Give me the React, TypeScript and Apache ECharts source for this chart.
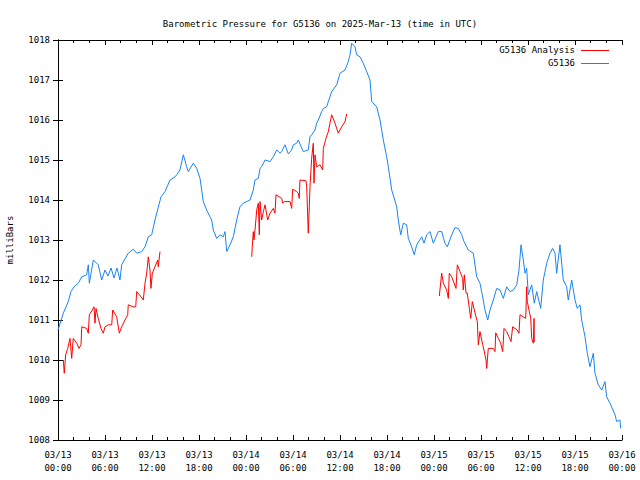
import React, { useEffect, useRef } from "react";
import * as echarts from "echarts";

// Hours since 2025-03-13 00:00 UTC
const stationHours = [
  0, 0.68, 1.31, 1.66, 2.04, 2.59, 3.03, 3.66, 3.87, 4.0, 4.51, 4.94, 5.14, 5.58, 6.0, 6.38, 6.77, 7.15, 7.53, 7.91,
  8.13, 8.97, 9.61, 10.05, 10.68, 11.11, 11.53, 11.96, 12.38, 13.15, 13.66, 14.3, 14.94, 15.15, 15.57, 16.0, 16.43,
  16.63, 17.27, 17.71, 18.13, 18.34, 18.55, 18.98, 19.4, 19.62, 19.83, 20.26, 20.68, 21.1, 21.32, 21.54, 21.96, 22.38,
  22.81, 23.23, 23.66, 24.51, 24.93, 25.15, 25.57, 25.79, 26.0, 26.43, 27.06, 27.49, 27.92, 28.34, 28.56, 28.98, 29.4,
  29.83, 30.04, 30.47, 30.68, 31.31, 31.95, 32.17, 32.38, 32.81, 33.02, 33.23, 33.66, 33.87, 34.3, 34.51, 34.94, 35.58,
  36.0, 36.64, 37.06, 37.28, 37.49, 37.91, 38.13, 38.55, 38.97, 39.41, 39.83, 40.05, 40.68, 41.11, 41.53, 41.96, 42.17,
  42.6, 43.24, 43.44, 43.75, 44.08, 44.51, 44.72, 45.15, 45.48, 45.79, 46.43, 46.72, 47.07, 47.49, 47.91, 48.55, 48.98,
  49.4, 49.7, 50.26, 50.68, 51.1, 51.54, 51.83, 52.38, 53.02, 53.45, 53.87, 54.29, 54.51, 54.86, 55.15, 55.57, 56.0,
  56.43, 56.85, 57.28, 57.7, 58.12, 58.56, 58.85, 59.11, 59.4, 59.62, 59.83, 60.04, 60.47, 60.8, 61.11, 61.62, 61.95,
  62.39, 62.81, 63.15, 63.45, 63.66, 64.08, 64.5, 64.94, 65.14, 65.58, 66.0, 66.29, 66.64, 66.85, 67.28, 67.57, 67.91,
  68.34, 68.55, 68.97, 69.41, 69.83, 70.04, 70.47, 71.11, 71.32, 71.74, 71.83,
];
const stationValues = [
  1010.75, 1011.17, 1011.46, 1011.71, 1011.83, 1011.92, 1012.08, 1012.13, 1012.38, 1011.92, 1012.5, 1012.42, 1012.38,
  1012.0, 1012.25, 1012.1, 1012.3, 1012.05, 1012.3, 1012.0, 1012.38, 1012.67, 1012.77, 1012.67, 1012.71, 1012.83,
  1013.08, 1013.13, 1013.5, 1014.08, 1014.21, 1014.5, 1014.58, 1014.63, 1014.75, 1015.13, 1014.83, 1014.71, 1014.92,
  1014.79, 1014.54, 1014.25, 1013.96, 1013.75, 1013.58, 1013.5, 1013.25, 1013.04, 1013.13, 1013.08, 1013.21, 1012.71,
  1012.88, 1013.08, 1013.5, 1013.83, 1013.92, 1014.0, 1014.25, 1014.5, 1014.54, 1014.79, 1014.83, 1015.0, 1014.96,
  1015.08, 1015.25, 1015.17, 1015.21, 1015.38, 1015.15, 1015.25, 1015.38, 1015.42, 1015.5, 1015.21, 1015.25, 1015.58,
  1015.63, 1015.75, 1015.92, 1016.0, 1016.21, 1016.29, 1016.33, 1016.46, 1016.71, 1016.88, 1017.17, 1017.25, 1017.46,
  1017.63, 1017.92, 1017.83, 1017.63, 1017.58, 1017.42, 1017.21, 1017.0, 1016.46, 1016.33, 1016.0, 1015.5, 1015.08,
  1014.83, 1014.25, 1013.83, 1013.5, 1013.13, 1013.42, 1013.38, 1013.04, 1012.83, 1012.63, 1012.88, 1013.08, 1012.92,
  1013.13, 1013.21, 1012.92, 1013.21, 1013.21, 1012.92, 1012.83, 1013.13, 1013.31, 1013.29, 1013.13, 1012.96, 1012.75,
  1012.67, 1012.08, 1011.92, 1011.5, 1011.25, 1011.0, 1011.25, 1011.5, 1011.79, 1011.75, 1011.54, 1011.83, 1011.71,
  1011.75, 1011.88, 1012.25, 1012.88, 1012.5, 1012.17, 1012.29, 1011.63, 1011.88, 1011.42, 1011.71, 1011.29, 1012.0,
  1012.42, 1012.67, 1012.79, 1012.67, 1012.17, 1012.88, 1012.0, 1011.83, 1011.5, 1012.0, 1011.5, 1011.29, 1011.38,
  1011.0, 1010.58, 1010.17, 1009.83, 1010.17, 1009.67, 1009.38, 1009.25, 1009.46, 1009.08, 1008.92, 1008.63, 1008.46,
  1008.5, 1008.29,
];

const analysisHours = [
  0.68, 0.8, 0.98, 1.24, 1.53, 1.75, 1.95, 2.39, 2.68, 2.94, 3.03, 3.66, 3.87, 4.0, 4.38, 4.6, 4.72, 4.85, 5.14, 5.49,
  5.78, 6.0, 6.42, 6.86, 6.98, 7.49, 7.83, 8.13, 8.55, 8.9, 8.97, 9.61, 9.92, 10.05, 10.6, 10.89, 11.11, 11.32, 11.53,
  11.74, 11.87, 12.04, 12.38, 12.73, 12.8, 13.02,
  18.0,
  24.73, 24.8, 24.93, 25.02, 25.15, 25.37, 25.57, 25.7, 25.79, 26.0, 26.22, 26.43, 26.77, 27.06, 27.49, 27.7, 27.83,
  28.56, 28.69, 28.89, 29.62, 29.83, 29.96, 30.47, 30.68, 30.8, 30.89, 31.66, 31.75, 31.95, 32.08, 32.17, 32.38, 32.59,
  32.68, 32.81, 33.02, 33.45, 33.79, 33.87, 34.21, 34.51, 34.72, 34.94, 35.36, 35.78, 36.21, 36.64, 36.85,
  42.0,
  48.68, 48.98, 49.19, 49.62, 49.83, 49.95, 50.26, 50.81, 50.98, 51.32, 51.66, 51.74, 51.87, 52.09, 52.25, 52.51,
  52.69, 52.89, 53.36, 53.53, 53.66, 53.87, 54.22, 54.38, 54.64, 54.73, 54.93, 55.57, 55.79, 55.88, 56.21, 56.51,
  56.77, 56.94, 57.28, 57.57, 57.83, 58.04, 58.63, 58.85, 58.98, 59.71, 59.83, 59.91, 60.17, 60.35, 60.47, 60.68,
  60.77, 60.8,
];
const analysisValues: (number | null)[] = [
  1010.0, 1009.67, 1010.13, 1010.29, 1010.54, 1010.04, 1010.54, 1010.42, 1010.29, 1010.38, 1010.83, 1010.79, 1010.67,
  1011.13, 1011.25, 1011.33, 1010.92, 1011.29, 1011.04, 1010.79, 1010.67, 1010.83, 1010.88, 1010.88, 1011.25, 1011.08,
  1010.67, 1010.83, 1011.0, 1011.13, 1011.38, 1011.33, 1011.33, 1011.71, 1011.58, 1011.5, 1011.92, 1012.17, 1012.58,
  1012.25, 1011.79, 1012.17, 1012.33, 1012.5, 1012.33, 1012.71,
  null,
  1012.58, 1012.83, 1013.21, 1013.0, 1013.25, 1013.75, 1013.92, 1013.13, 1013.96, 1013.5, 1013.71, 1013.88, 1013.5,
  1013.67, 1013.79, 1013.67, 1014.13, 1014.04, 1013.92, 1013.96, 1013.96, 1013.79, 1014.27, 1014.21, 1014.17, 1014.04,
  1014.5, 1014.48, 1014.33, 1013.17, 1013.83, 1014.33, 1015.04, 1015.42, 1014.42, 1015.13, 1014.83, 1014.88, 1014.75,
  1015.29, 1015.54, 1015.71, 1015.92, 1016.13, 1015.92, 1015.67, 1015.83, 1015.96, 1016.15,
  null,
  1011.6, 1012.17, 1011.92, 1011.75, 1011.54, 1012.17, 1012.08, 1011.79, 1012.38, 1012.21, 1012.04, 1011.75, 1012.13,
  1011.67, 1011.67, 1011.29, 1011.04, 1011.46, 1011.08, 1010.96, 1010.38, 1010.71, 1010.38, 1010.25, 1010.0, 1009.79,
  1010.29, 1010.29, 1010.21, 1010.68, 1010.54, 1010.42, 1010.21, 1010.79, 1010.71, 1010.58, 1010.46, 1010.83, 1010.75,
  1010.67, 1011.13, 1011.04, 1011.83, 1011.46, 1011.21, 1011.04, 1010.54, 1010.42, 1011.04, 1010.45,
];

const xTickLabels = [
  "03/13\n00:00", "03/13\n06:00", "03/13\n12:00", "03/13\n18:00",
  "03/14\n00:00", "03/14\n06:00", "03/14\n12:00", "03/14\n18:00",
  "03/15\n00:00", "03/15\n06:00", "03/15\n12:00", "03/15\n18:00",
  "03/16\n00:00",
];

const titleText = "Barometric Pressure for G5136 on 2025-Mar-13 (time in UTC)";
const analysisName = "G5136 Analysis";
const stationName = "G5136";
const yName = "milliBars";

const FONT = "DejaVu Sans Mono";
const RED = "#ff0000";
const BLUE = "#1a84f0";

export default function App() {
  const ref = useRef<HTMLDivElement>(null);
  useEffect(() => {
    if (!ref.current) return;
    const chart = echarts.init(ref.current, null, { renderer: "svg" });
    const axisCommon = {
      axisLine: { show: true, lineStyle: { color: "#000", width: 1 } },
      splitLine: { show: false },
    };
    const xBase = {
      type: "value" as const,
      min: 0,
      max: 72,
      interval: 6,
      ...axisCommon,
      axisTick: { show: true, inside: true, length: 5, lineStyle: { color: "#000" } },
      minorTick: { show: true, splitNumber: 3, length: 3, lineStyle: { color: "#000" } },
    };
    const yBase = {
      type: "value" as const,
      min: 1008,
      max: 1018,
      interval: 1,
      ...axisCommon,
      axisTick: { show: true, inside: true, length: 5, lineStyle: { color: "#000" } },
    };
    chart.setOption({
      animation: false,
      backgroundColor: "#fff",
      textStyle: { fontFamily: FONT },
      title: {
        text: titleText,
        left: "center",
        top: 14,
        textStyle: { fontFamily: FONT, fontSize: 9, fontWeight: "normal", color: "#000" },
      },
      grid: { left: 58, right: 18, top: 40, bottom: 40, containLabel: false, outerBoundsMode: "none" },
      xAxis: [
        {
          ...xBase,
          position: "bottom",
          axisLabel: {
            show: true,
            margin: 8,
            fontFamily: FONT,
            fontSize: 9,
            color: "#000",
            lineHeight: 13,
            formatter: (v: number) => xTickLabels[Math.round(v / 6)] ?? "",
          },
        },
        { ...xBase, position: "top", axisLabel: { show: false } },
      ],
      yAxis: [
        {
          ...yBase,
          position: "left",
          name: yName,
          nameLocation: "middle",
          nameGap: 44,
          nameRotate: 90,
          nameTextStyle: { fontFamily: FONT, fontSize: 9, color: "#000" },
          axisLabel: {
            show: true,
            margin: 8,
            fontFamily: FONT,
            fontSize: 9,
            color: "#000",
            formatter: (v: number) => String(v),
          },
        },
        { ...yBase, position: "right", axisLabel: { show: false } },
      ],
      series: [
        {
          name: analysisName,
          type: "line",
          xAxisIndex: 0,
          yAxisIndex: 0,
          data: analysisHours.map((h, i) => [h, analysisValues[i]]),
          showSymbol: false,
          symbol: "none",
          connectNulls: false,
          lineStyle: { color: RED, width: 1 },
          itemStyle: { color: RED },
        },
        {
          name: stationName,
          type: "line",
          xAxisIndex: 0,
          yAxisIndex: 0,
          data: stationHours.map((h, i) => [h, stationValues[i]]),
          showSymbol: false,
          symbol: "none",
          lineStyle: { color: BLUE, width: 1 },
          itemStyle: { color: BLUE },
        },
      ],
      graphic: [
        {
          type: "text",
          x: 575,
          y: 50,
          style: { text: analysisName, fill: "#000", font: `9px '${FONT}'`, textAlign: "right", textVerticalAlign: "middle" },
        },
        { type: "line", shape: { x1: 581, y1: 50.5, x2: 609, y2: 50.5 }, style: { stroke: RED, lineWidth: 1 } },
        {
          type: "text",
          x: 575,
          y: 63,
          style: { text: stationName, fill: "#000", font: `9px '${FONT}'`, textAlign: "right", textVerticalAlign: "middle" },
        },
        { type: "line", shape: { x1: 581, y1: 63.5, x2: 609, y2: 63.5 }, style: { stroke: BLUE, lineWidth: 1 } },
      ],
    });
    return () => chart.dispose();
  }, []);
  return (
    <div
      ref={ref}
      style={{ position: "fixed", left: 0, top: 0, width: 640, height: 480, background: "#fff" }}
    />
  );
}
